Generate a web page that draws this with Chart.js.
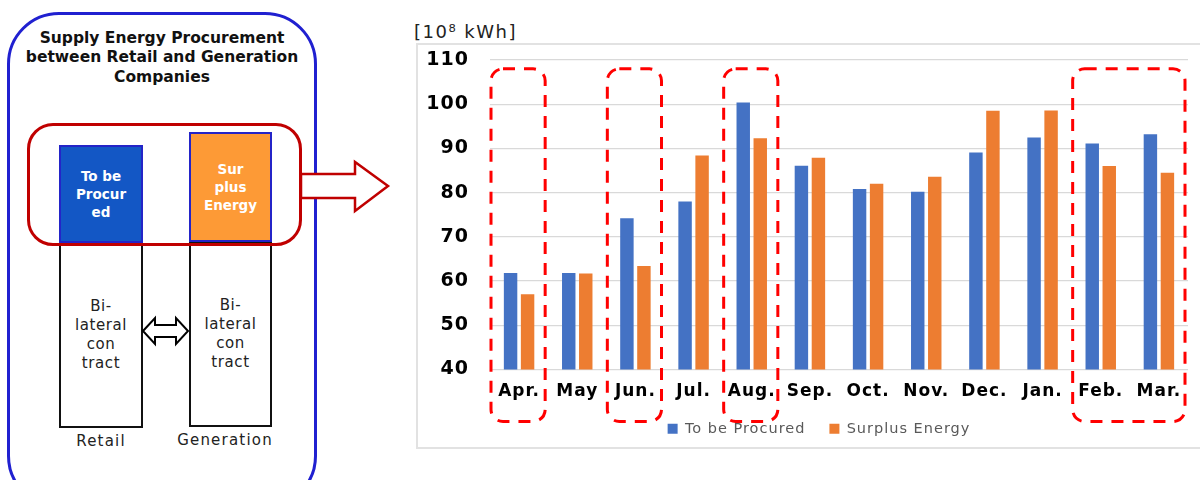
<!DOCTYPE html>
<html>
<head>
<meta charset="utf-8">
<script src="https://cdn.jsdelivr.net/npm/chart.js@4.4.1/dist/chart.umd.min.js"></script>
<style>
  html, body { margin: 0; padding: 0; background: #fff; }
  #stage { position: relative; width: 1200px; height: 480px; overflow: hidden; font-family: "DejaVu Sans", sans-serif; }
  .abs { position: absolute; box-sizing: border-box; }
  .outer { left: 7px; top: 12px; width: 310px; height: 496px; border: 3px solid #2020d0; border-radius: 52px; }
  .title { left: 7px; top: 28.5px; width: 310px; text-align: center; font-weight: bold; font-size: 15.5px; line-height: 19.5px; color: #111; }
  .box { display: flex; align-items: center; justify-content: center; text-align: center; }
  .buy { left: 59px; top: 145px; width: 84px; height: 98px; background: #1357c5; border: 2px solid #2424c8; color: #fff; font-weight: bold; font-size: 13.5px; line-height: 18px; }
  .sell { left: 189px; top: 132px; width: 83px; height: 110px; background: #fd9a36; border: 2px solid #2424c8; color: #fff; font-weight: bold; font-size: 13.5px; line-height: 18px; }
  .contract { border: 2.5px solid #111; background: #fff; color: #222; font-size: 15px; line-height: 19px; letter-spacing: 0.6px; }
  .c1 { left: 59px; top: 242px; width: 84px; height: 186px; }
  .c2 { left: 189px; top: 241px; width: 83px; height: 186px; }
  .group { left: 27px; top: 123px; width: 275px; height: 123px; border: 3px solid #c00000; border-radius: 26px; }
  .side { font-size: 15px; color: #222; text-align: center; letter-spacing: 1.2px; }
  .unit { left: 414px; top: 21px; font-size: 18px; letter-spacing: 1.5px; color: #222; white-space: nowrap; }
  .frame { left: 416px; top: 43px; width: 820px; height: 406px; border: 2px solid #e2e2e2; }
  #chartBox { position: absolute; left: 416px; top: 0; width: 784px; height: 480px; }
</style>
</head>
<body>
<div id="stage">
  <!-- procurement diagram -->
  <div class="abs outer"></div>
  <div class="abs title">Supply Energy Procurement<br>between Retail and Generation<br>Companies</div>
  <div class="abs box contract c1"><div>Bi-<br>lateral<br>con<br>tract</div></div>
  <div class="abs box contract c2"><div>Bi-<br>lateral<br>con<br>tract</div></div>
  <div class="abs box buy"><div>To be<br>Procur<br>ed</div></div>
  <div class="abs box sell"><div>Sur<br>plus<br>Energy</div></div>
  <div class="abs group"></div>
  <div class="abs side" style="left:60px; top:432px; width:82px;">Retail</div>
  <div class="abs side" style="left:164px; top:431px; width:122px;">Generation</div>
  <svg class="abs" style="left:0; top:0;" width="1200" height="480">
    <polygon points="143,331 155,318 155,325 176,325 176,318 188,331 176,344 176,337 155,337 155,344"
             fill="#fff" stroke="#000" stroke-width="2" stroke-linejoin="miter"/>
    <polygon points="301,174 355,174 355,162 388,186 355,211 355,198 301,198"
             fill="#fff" stroke="#c00000" stroke-width="2.5" stroke-linejoin="miter"/>
  </svg>

  <!-- monthly chart -->
  <div class="abs frame"></div>
  <div class="abs unit">[10⁸ kWh]</div>
  <div id="chartBox"><canvas id="chart"></canvas></div>
</div>

<script>
// Monthly supply energy, 10^8 kWh
const months = ['Apr.', 'May', 'Jun.', 'Jul.', 'Aug.', 'Sep.', 'Oct.', 'Nov.', 'Dec.', 'Jan.', 'Feb.', 'Mar.'];
const toBeProcured = [61.8, 61.8, 74.2, 78.0, 100.4, 86.1, 80.8, 80.2, 89.1, 92.5, 91.1, 93.2];
const surplusEnergy = [57.0, 61.7, 63.4, 88.4, 92.3, 87.9, 82.0, 83.6, 98.5, 98.6, 86.0, 84.5];
const yMin = 40;
const yMax = 110;
const yStep = 10;
// months singled out with a dashed frame (first, last)
const highlightGroups = [['Apr.', 'Apr.'], ['Jun.', 'Jun.'], ['Aug.', 'Aug.'], ['Feb.', 'Mar.']];

const FONT = '"DejaVu Sans", sans-serif';

// slightly wider text spacing on the chart canvas
const textSpacing = {
  id: 'textSpacing',
  beforeUpdate(chart) { chart.ctx.letterSpacing = '1px'; },
  beforeDraw(chart) { chart.ctx.letterSpacing = '1px'; }
};

// legend sits a little right of centre and tucked up under the month labels
const legendOffset = {
  id: 'legendOffset',
  afterLayout(chart) {
    const lg = chart.legend;
    lg.left += 17;
    lg.right += 17;
    lg.top -= 12;
    lg.bottom -= 12;
  }
};

// dashed rounded frames around selected month groups
const highlightFrames = {
  id: 'highlightFrames',
  afterDatasetsDraw(chart) {
    const { ctx, chartArea, scales: { x, y } } = chart;
    const step = x.getPixelForValue(1) - x.getPixelForValue(0);
    const top = y.getPixelForValue(108);
    const bottom = chartArea.bottom + 52;
    ctx.save();
    ctx.strokeStyle = '#ff0000';
    ctx.lineWidth = 3;
    ctx.setLineDash([12, 9]);
    highlightGroups.forEach(([first, last]) => {
      const left = x.getPixelForValue(months.indexOf(first)) - step / 2 + 1;
      const right = x.getPixelForValue(months.indexOf(last)) + step / 2 - 3;
      ctx.beginPath();
      ctx.roundRect(left, top, right - left, bottom - top, 12);
      ctx.stroke();
    });
    ctx.restore();
  }
};

new Chart(document.getElementById('chart'), {
  type: 'bar',
  data: {
    labels: months,
    datasets: [
      { label: 'To be Procured', data: toBeProcured, backgroundColor: '#4472c4',
        categoryPercentage: 0.585, barPercentage: 0.79 },
      { label: 'Surplus Energy', data: surplusEnergy, backgroundColor: '#ed7d31',
        categoryPercentage: 0.585, barPercentage: 0.79 }
    ]
  },
  options: {
    responsive: true,
    maintainAspectRatio: false,
    animation: false,
    devicePixelRatio: 1,
    layout: { padding: { top: 60, right: 12, bottom: 22, left: 0 } },
    plugins: {
      legend: {
        position: 'bottom',
        labels: { boxWidth: 10, boxHeight: 10, padding: 24, color: '#595959', font: { family: FONT, size: 14.5 } }
      },
      tooltip: { enabled: false }
    },
    scales: {
      x: {
        grid: { display: false, drawTicks: false },
        border: { display: false },
        ticks: { color: '#000', padding: 12, maxRotation: 0, autoSkip: false,
                 font: { family: FONT, size: 17, weight: 'bold' } },
        afterFit(scale) { scale.height = 40; }
      },
      y: {
        min: yMin,
        max: yMax,
        grid: { color: '#d9d9d9', lineWidth: 1.3, drawTicks: false },
        border: { display: false },
        ticks: { stepSize: yStep, color: '#000', padding: 21,
                 font: { family: FONT, size: 19, weight: 'bold' } },
        afterFit(scale) { scale.width = 74; }
      }
    }
  },
  plugins: [textSpacing, legendOffset, highlightFrames]
});
</script>
</body>
</html>
